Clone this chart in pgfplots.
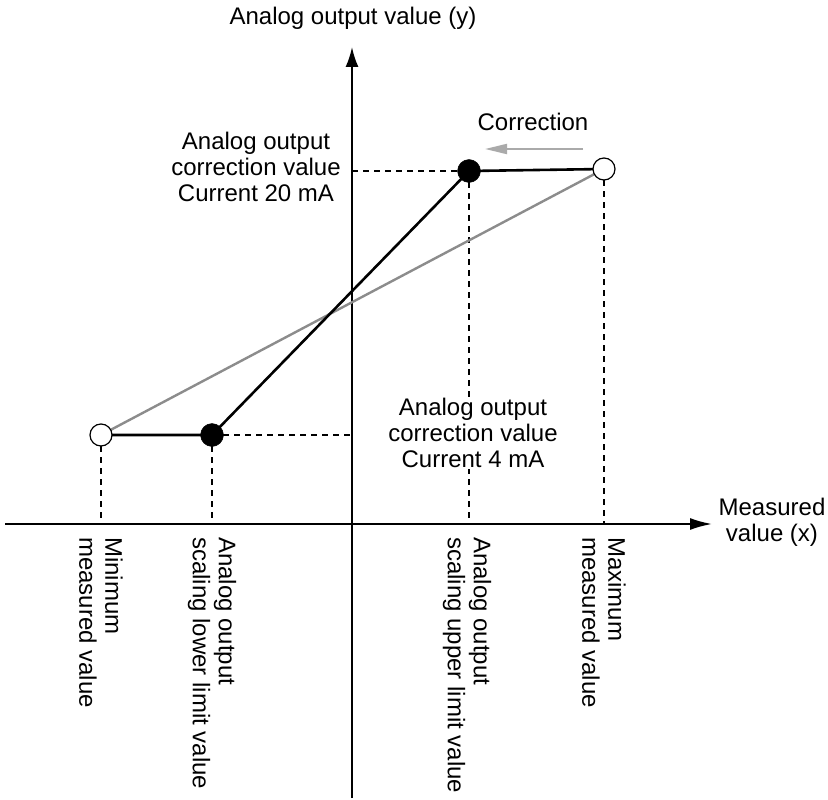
\documentclass[border=0pt]{standalone}
\usepackage{fontspec}
\setmainfont{Liberation Sans}
\usepackage{pgfplots}
\pgfplotsset{compat=1.18}
\usetikzlibrary{arrows.meta}
\definecolor{lgray}{HTML}{8C8C8C}
\definecolor{agray}{HTML}{AAAAAA}
\newcommand{\lbl}{\fontsize{24}{26}\selectfont}
\begin{document}
\begin{tikzpicture}
\begin{axis}[
  scale only axis, width=828pt, height=800pt,
  xmin=0, xmax=828, ymin=0, ymax=800, y dir=reverse,
  hide axis, clip=false,
]
\path (axis cs:0,0) rectangle (axis cs:828,800);
% guide lines (dashed)
\addplot[black, line width=1.1pt, dash pattern=on 6pt off 5pt] coordinates {(101,446) (101,524)};
\addplot[black, line width=1.1pt, dash pattern=on 6pt off 5pt] coordinates {(212,446) (212,524)};
\addplot[black, line width=1.1pt, dash pattern=on 6pt off 5pt] coordinates {(469,182) (469,524)};
\addplot[black, line width=1.1pt, dash pattern=on 6pt off 5pt] coordinates {(604,180) (604,524)};
\addplot[black, line width=1.1pt, dash pattern=on 6pt off 5pt] coordinates {(223,435) (352,435)};
\addplot[black, line width=1.1pt, dash pattern=on 6pt off 5pt] coordinates {(352,171) (458,171)};
% axes
\addplot[black, line width=2pt, -{Latex[length=22pt,width=12pt]}] coordinates {(5,524) (712,524)};
\addplot[black, line width=2pt, -{Latex[length=20pt,width=13pt]}] coordinates {(352,798) (352,47)};
% before / after correction
\addplot[lgray, line width=2.4pt] coordinates {(101,435) (604,169)};
\addplot[black, line width=2.6pt] coordinates {(101,435) (212,435) (469,171) (604,169)};
\addplot[agray, line width=2pt, -{Triangle[length=22pt,width=10pt]}] coordinates {(583,149) (485,149)};
\addplot[only marks, mark=*, mark size=11pt, mark options={fill=white, draw=black, line width=1.2pt}]
  coordinates {(101,435) (604,169)};
\addplot[only marks, mark=*, mark size=11.5pt, mark options={fill=black, draw=black}]
  coordinates {(212,435) (469,171)};
% texts
\node[font=\lbl, anchor=base, inner sep=0pt] at (axis cs:353,25) {Analog output value (y)};
\node[font=\lbl, anchor=base, inner sep=0pt] at (axis cs:533,131) {Correction};
\node[font=\lbl, align=center, inner sep=0pt] at (axis cs:256,167)
  {Analog output\\correction value\\Current 20 mA};
\node[font=\lbl, align=center, inner sep=1pt, fill=white] at (axis cs:473,433)
  {Analog output\\correction value\\Current 4 mA};
\node[font=\lbl, align=center, inner sep=0pt] at (axis cs:772,522)
  {Measured\\value (x)};
\node[font=\lbl, align=left, rotate=-90, anchor=west, inner sep=0pt] at (axis cs:101,537)
  {Minimum\\measured value};
\node[font=\lbl, align=left, rotate=-90, anchor=west, inner sep=0pt] at (axis cs:212,537)
  {Analog output\\scaling lower limit value};
\node[font=\lbl, align=left, rotate=-90, anchor=west, inner sep=0pt] at (axis cs:467,537)
  {Analog output\\scaling upper limit value};
\node[font=\lbl, align=left, rotate=-90, anchor=west, inner sep=0pt] at (axis cs:604,537)
  {Maximum\\measured value};
\end{axis}
\end{tikzpicture}
\end{document}
